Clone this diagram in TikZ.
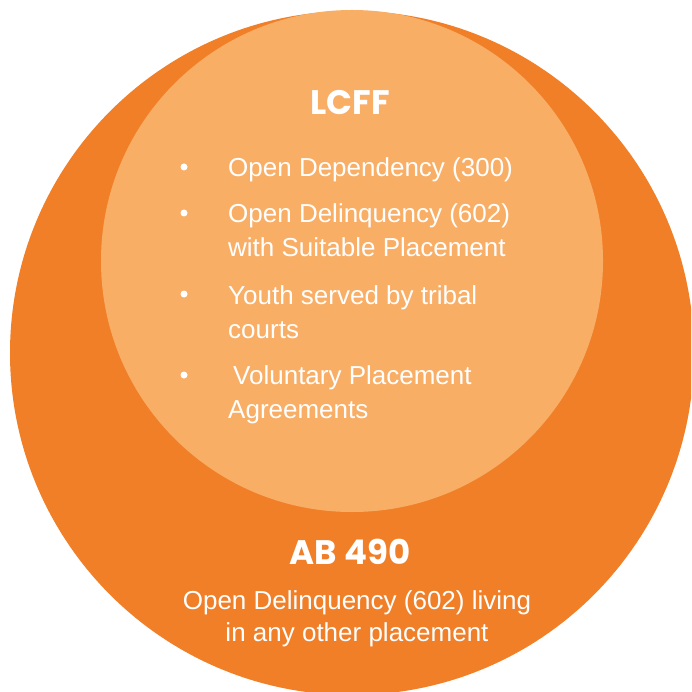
\documentclass[tikz,border=0pt]{standalone}
\usepackage{fontspec}
\setmainfont{Liberation Sans}
\newfontfamily\headfont{Poppins}
\usetikzlibrary{positioning}
\definecolor{outerorange}{RGB}{240,127,40}
\definecolor{innerorange}{RGB}{249,174,102}

\begin{document}
\begin{tikzpicture}[x=1pt,y=-1pt,
    ring/.style={circle,fill=#1,draw=none,inner sep=0pt},
    title/.style={text=white,font=\headfont\bfseries\fontsize{34}{40}\selectfont},
    item/.style={text=white,anchor=base west,align=left,inner sep=0pt,
      font=\fontsize{26}{34}\selectfont},
    dot/.style={circle,fill=white,draw=none,inner sep=0pt,minimum size=7pt}]

  \useasboundingbox (0,0) rectangle (691,692);
  \clip (0,0) rectangle (691,692);

  \node[ring=outerorange,minimum size=684pt] (outer) at (352,353) {};
  \node[ring=innerorange,minimum size=502pt] (inner) at (352,261) {};

  \node[title,anchor=base] (lcff) at (350,115) {LCFF};

  % multi-line nodes sit on the baseline of their last line
  \node[item] (dep)    at (228,177) {Open Dependency (300)};
  \node[item] (delq)   at (228,257) {Open Delinquency (602)\\with Suitable Placement};
  \node[item] (tribal) at (228,338) {Youth served by tribal\\courts};
  \node[item] (vol)    at (228,418) {\hspace*{5pt}Voluntary Placement\\Agreements};

  \node[dot] (b1) at (184,167) {};
  \node[dot] (b2) at (184,213) {};
  \node[dot] (b3) at (184,294) {};
  \node[dot] (b4) at (184,375) {};

  \node[title,anchor=base] (ab) at (350,564) {AB 490};
  \node[item,anchor=base,align=center,font=\fontsize{26}{32}\selectfont]
    (abtext) at (357,641) {Open Delinquency (602) living\\in any other placement};
\end{tikzpicture}
\end{document}
